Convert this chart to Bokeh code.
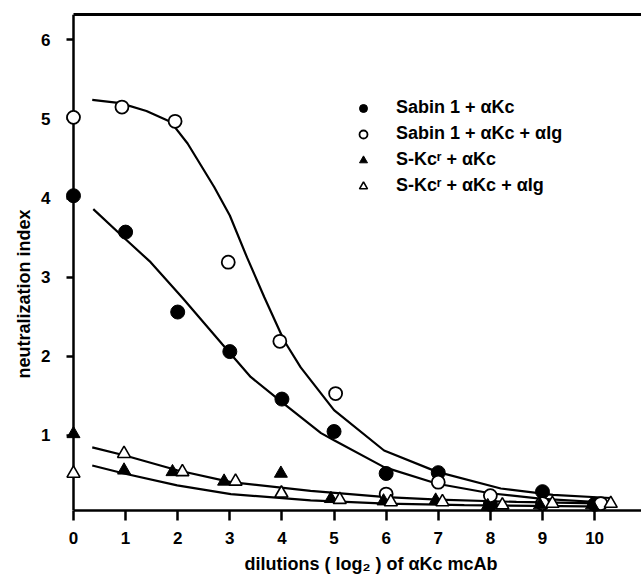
from bokeh.plotting import figure
from bokeh.models import Range1d, FixedTicker, LinearAxis, Legend, LegendItem, Title
from bokeh.embed import file_html
from bokeh.resources import INLINE

# ---- data ----
x_ticks = [0, 1, 2, 3, 4, 5, 6, 7, 8, 9, 10]
y_ticks = [1, 2, 3, 4, 5, 6]

# Sabin 1 + aKc (filled circles)
sab_x = [0, 1, 2, 3, 4, 5, 6, 7, 8, 9, 10]
sab_y = [4.03, 3.57, 2.56, 2.06, 1.46, 1.05, 0.52, 0.53, 0.13, 0.29, 0.13]
# Sabin 1 + aKc + aIg (open circles)
sabig_x = [0, 0.93, 1.95, 2.97, 3.96, 5.03, 6.0, 7.0, 8.0, 9.0, 10.12]
sabig_y = [5.02, 5.15, 4.97, 3.19, 2.19, 1.53, 0.26, 0.41, 0.24, 0.14, 0.14]
# S-Kc^r + aKc (filled triangles)
skc_x = [0, 0.97, 1.9, 2.89, 3.98, 4.94, 5.95, 6.95, 7.95, 8.95, 9.95]
skc_y = [1.02, 0.56, 0.54, 0.42, 0.52, 0.20, 0.17, 0.18, 0.11, 0.12, 0.12]
# S-Kc^r + aKc + aIg (open triangles)
skcig_x = [0, 0.97, 2.09, 3.11, 3.99, 5.11, 6.09, 7.08, 8.23, 9.19, 10.31]
skcig_y = [0.52, 0.77, 0.54, 0.42, 0.27, 0.19, 0.16, 0.16, 0.12, 0.14, 0.14]

# hand-drawn fit curves
curveA_x = [0.36, 0.9, 1.4, 1.87, 2.19, 2.70, 3.0, 3.33, 3.66, 4.04, 4.36, 5.0, 5.96, 6.98, 8.2, 9.2, 10.3]
curveA_y = [5.24, 5.2, 5.1, 4.96, 4.69, 4.14, 3.78, 3.25, 2.75, 2.2, 1.86, 1.32, 0.81, 0.54, 0.33, 0.25, 0.21]
curveB_x = [0.38, 1.0, 1.48, 2.09, 2.86, 3.40, 4.04, 4.75, 5.0, 5.96, 6.98, 8.0, 9.0, 10.3]
curveB_y = [3.86, 3.48, 3.19, 2.74, 2.15, 1.74, 1.40, 1.03, 0.94, 0.60, 0.39, 0.27, 0.20, 0.15]
curveC_x = [0.36, 0.97, 1.99, 3.02, 4.55, 6.0, 7.0, 8.5, 10.3]
curveC_y = [0.85, 0.75, 0.56, 0.41, 0.30, 0.22, 0.19, 0.16, 0.14]
curveD_x = [0.36, 0.97, 1.99, 3.02, 4.55, 6.0, 7.5, 10.3]
curveD_y = [0.62, 0.52, 0.37, 0.26, 0.18, 0.14, 0.12, 0.10]

labels = ["Sabin 1 + \u03b1Kc", "Sabin 1 + \u03b1Kc + \u03b1Ig",
          "S-Kc\u02b3 + \u03b1Kc", "S-Kc\u02b3 + \u03b1Kc + \u03b1Ig"]
x_title = "dilutions ( log\u2082 )  of  \u03b1Kc  mcAb"
y_title = "neutralization  index"

FONT = "Liberation Sans"

p = figure(width=641, height=580,
           x_range=Range1d(-0.134, 10.90), y_range=Range1d(0.052, 6.32),
           output_backend="svg", toolbar_location=None,
           min_border_left=66, min_border_right=0, min_border_top=14, min_border_bottom=70)
p.outline_line_color = None
p.grid.visible = False
p.background_fill_color = "white"

# x axis
xa = p.xaxis[0]
xa.ticker = FixedTicker(ticks=x_ticks)
xa.bounds = (0, 10.9)
xa.axis_line_width = 2.5
xa.major_tick_line_width = 2.5
xa.major_tick_out = 10
xa.major_tick_in = 0
xa.minor_tick_line_color = None
xa.major_label_text_font = FONT
xa.major_label_text_font_style = "bold"
xa.major_label_text_font_size = "17px"
xa.major_label_text_color = "black"
xa.major_label_standoff = 11

# y axis: labels only (at frame edge)
ya = p.yaxis[0]
ya.ticker = FixedTicker(ticks=y_ticks)
ya.axis_line_color = None
ya.major_tick_line_color = None
ya.minor_tick_line_color = None
ya.major_tick_out = 0
ya.major_tick_in = 0
ya.major_label_standoff = 16
ya.major_label_text_font = FONT
ya.major_label_text_font_style = "bold"
ya.major_label_text_font_size = "17px"
ya.major_label_text_color = "black"

# y axis line and ticks placed at x = 0
yline = LinearAxis(ticker=FixedTicker(ticks=y_ticks), fixed_location=0,
                   axis_line_width=2.5, major_tick_line_width=2.5, major_tick_out=10,
                   major_tick_in=0, minor_tick_line_color=None,
                   major_label_text_font_size="0px", major_label_text_alpha=0,
                   major_label_standoff=0)
p.add_layout(yline, "left")

# top frame line
top = LinearAxis(ticker=FixedTicker(ticks=[]), axis_line_width=3, major_tick_out=0,
                 major_tick_in=0, minor_tick_line_color=None, major_label_standoff=0,
                 bounds=(0, 10.9))
p.add_layout(top, "above")

p.add_layout(Title(text=y_title, align="left", offset=132,
                   text_font=FONT, text_font_style="bold", text_font_size="18px",
                   text_color="black"), "left")
p.add_layout(Title(text=x_title, align="left", offset=178,
                   text_font=FONT, text_font_style="bold", text_font_size="18px",
                   text_color="black"), "below")

for cx, cy in ((curveA_x, curveA_y), (curveB_x, curveB_y), (curveC_x, curveC_y), (curveD_x, curveD_y)):
    p.line(cx, cy, line_color="black", line_width=2.2)

r1 = p.scatter(sab_x, sab_y, marker="circle", size=14, fill_color="black", line_color="black", level="overlay")
r2 = p.scatter(sabig_x, sabig_y, marker="circle", size=13, fill_color="white", line_color="black", line_width=1.8, level="overlay")
r3 = p.scatter(skc_x, skc_y, marker="triangle", size=13, fill_color="black", line_color="black", level="overlay")
r4 = p.scatter(skcig_x, skcig_y, marker="triangle", size=13, fill_color="white", line_color="black", line_width=1.6, level="overlay")

legend = Legend(items=[LegendItem(label=labels[0], renderers=[r1]),
                       LegendItem(label=labels[1], renderers=[r2]),
                       LegendItem(label=labels[2], renderers=[r3]),
                       LegendItem(label=labels[3], renderers=[r4])],
                location=(287, 314), border_line_color=None, background_fill_alpha=0,
                label_text_font=FONT, label_text_font_style="bold", label_text_font_size="18px",
                label_text_color="black",
                glyph_width=20, glyph_height=20, label_height=20, label_standoff=23,
                spacing=5, padding=0, margin=0)
p.add_layout(legend, "center")

open("out.html", "w").write(file_html(p, INLINE))
